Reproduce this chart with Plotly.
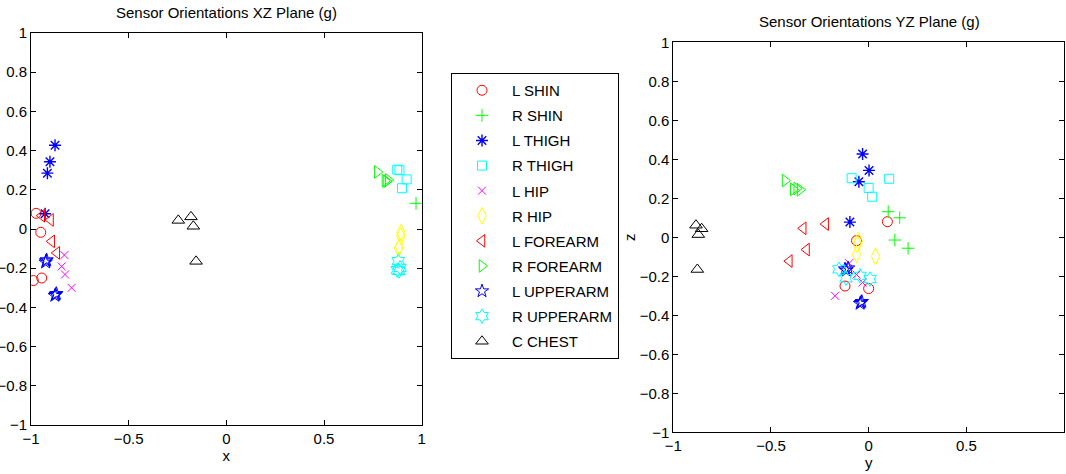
import plotly.graph_objects as go

# ---------------- data (x, y, z components in g) ----------------
sensor_names = ["L SHIN", "R SHIN", "L THIGH", "R THIGH", "L HIP", "R HIP",
                "L FOREARM", "R FOREARM", "L UPPERARM", "R UPPERARM", "C CHEST"]

l_shin_x = [-0.974, -0.950, -0.988, -0.945]
l_shin_y = [0.096, -0.062, 0.000, -0.121]
l_shin_z = [0.080, -0.017, -0.263, -0.250]

r_shin_x = [0.971, 1.040, 1.050, 1.035]
r_shin_y = [0.100, 0.159, 0.134, 0.202]
r_shin_z = [0.131, 0.100, -0.014, -0.056]

l_thigh_x = [-0.877, -0.903, -0.916, -0.928]
l_thigh_y = [-0.031, 0.002, -0.050, -0.096]
l_thigh_z = [0.427, 0.343, 0.285, 0.078]

r_thigh_x = [0.875, 0.886, 0.923, 0.899]
r_thigh_y = [-0.087, 0.105, 0.000, 0.018]
r_thigh_z = [0.303, 0.300, 0.253, 0.208]

l_hip_x = [-0.829, -0.843, -0.826, -0.792]
l_hip_y = [-0.100, -0.062, -0.031, -0.172]
l_hip_z = [-0.133, -0.191, -0.232, -0.300]

r_hip_x = [0.894, 0.893, 0.886, 0.882]
r_hip_y = [-0.053, -0.058, -0.062, 0.035]
r_hip_z = [-0.018, -0.036, -0.088, -0.098]

l_forearm_x = [-0.945, -0.900, -0.894, -0.868]
l_forearm_y = [-0.220, -0.335, -0.318, -0.406]
l_forearm_z = [0.068, 0.046, -0.063, -0.122]

r_forearm_x = [0.773, 0.812, 0.829, 0.820]
r_forearm_y = [-0.428, -0.386, -0.368, -0.351]
r_forearm_z = [0.291, 0.246, 0.250, 0.244]

l_upperarm_x = [-0.923, -0.920, -0.925, -0.874, -0.870, -0.878]
l_upperarm_y = [-0.121, -0.105, -0.115, -0.040, -0.035, -0.044]
l_upperarm_z = [-0.163, -0.158, -0.170, -0.335, -0.330, -0.340]

r_upperarm_x = [0.880, 0.889, 0.875, 0.884]
r_upperarm_y = [-0.152, -0.044, -0.116, 0.007]
r_upperarm_z = [-0.164, -0.198, -0.210, -0.214]

c_chest_x = [-0.181, -0.246, -0.169, -0.155]
c_chest_y = [-0.884, -0.855, -0.872, -0.877]
c_chest_z = [0.062, 0.044, 0.014, -0.165]

xz_ticks_x = [-1, -0.5, 0, 0.5, 1]
z_ticks = [-1, -0.8, -0.6, -0.4, -0.2, 0, 0.2, 0.4, 0.6, 0.8, 1]

sensor_data = [
    (l_shin_x, l_shin_y, l_shin_z),
    (r_shin_x, r_shin_y, r_shin_z),
    (l_thigh_x, l_thigh_y, l_thigh_z),
    (r_thigh_x, r_thigh_y, r_thigh_z),
    (l_hip_x, l_hip_y, l_hip_z),
    (r_hip_x, r_hip_y, r_hip_z),
    (l_forearm_x, l_forearm_y, l_forearm_z),
    (r_forearm_x, r_forearm_y, r_forearm_z),
    (l_upperarm_x, l_upperarm_y, l_upperarm_z),
    (r_upperarm_x, r_upperarm_y, r_upperarm_z),
    (c_chest_x, c_chest_y, c_chest_z),
]

# ---------------- styles ----------------
colors = ["#ff0000", "#00ff00", "#0000ff", "#00ffff", "#ff00ff", "#ffff00",
          "#ff0000", "#00ff00", "#0000ff", "#00ffff", "#000000"]
symbols = ["circle-open", "cross-thin-open", "asterisk-open", "square-open",
           "x-thin-open", "diamond-tall-open", "triangle-left-open",
           "triangle-right-open", "star-open", "hexagram-open", "triangle-up-open"]
sizes = [10, 9, 10, 9, 8, 12, 11, 11, 10, 11, 11]
widths = [1, 1, 1.4, 1, 1, 1, 1, 1, 1, 1, 1]

FONT = "Liberation Sans, Arial, Helvetica, sans-serif"
W, H = 1066, 474

fig = go.Figure()
for i, name in enumerate(sensor_names):
    xs, ys, zs = sensor_data[i]
    mk = dict(symbol=symbols[i], color=colors[i], size=sizes[i],
              line=dict(color=colors[i], width=widths[i]))
    fig.add_trace(go.Scatter(x=xs, y=zs, mode="markers", name=name, marker=mk,
                             legendgroup=name, xaxis="x", yaxis="y"))
    fig.add_trace(go.Scatter(x=ys, y=zs, mode="markers", name=name, marker=mk,
                             legendgroup=name, showlegend=False,
                             xaxis="x2", yaxis="y2"))

def px_x(p):
    return p / W

def px_y(p):
    return (H - p) / H

axis_common = dict(range=[-1, 1], showline=True, linecolor="black", linewidth=1,
                   mirror="ticks", ticks="inside", ticklen=5, tickcolor="black",
                   showgrid=False, zeroline=False, automargin=False,
                   tickfont=dict(family=FONT, size=15, color="black"))

fig.update_layout(
    width=W, height=H,
    margin=dict(l=0, r=0, t=0, b=0),
    paper_bgcolor="white", plot_bgcolor="white",
    font=dict(family=FONT, size=15, color="black"),
    showlegend=True,
    xaxis=dict(axis_common, domain=[px_x(31), px_x(421.7)], anchor="y",
               tickvals=xz_ticks_x,
               title=dict(text="x", font=dict(family=FONT, size=15), standoff=4)),
    yaxis=dict(axis_common, domain=[px_y(425), px_y(33)], anchor="x",
               tickvals=z_ticks),
    xaxis2=dict(axis_common, domain=[px_x(673.3), px_x(1064)], anchor="y2",
                tickvals=xz_ticks_x,
                title=dict(text="y", font=dict(family=FONT, size=15), standoff=4)),
    yaxis2=dict(axis_common, domain=[px_y(432.3), px_y(42.3)], anchor="x2",
                tickvals=z_ticks,
                title=dict(text="z", font=dict(family=FONT, size=15), standoff=0)),
    legend=dict(x=px_x(451), y=px_y(73), xanchor="left", yanchor="top",
                bordercolor="black", borderwidth=1, bgcolor="white",
                font=dict(family=FONT, size=15, color="black"),
                traceorder="grouped", tracegroupgap=2.6, itemwidth=50),
    annotations=[
        dict(text="Sensor Orientations XZ Plane (g)", x=px_x(226), y=px_y(12),
             xref="paper", yref="paper", xanchor="center", yanchor="middle",
             showarrow=False, font=dict(family=FONT, size=15, color="black")),
        dict(text="Sensor Orientations YZ Plane (g)", x=px_x(869), y=px_y(22),
             xref="paper", yref="paper", xanchor="center", yanchor="middle",
             showarrow=False, font=dict(family=FONT, size=15, color="black")),
    ],
)

fig.write_html("out.html")
